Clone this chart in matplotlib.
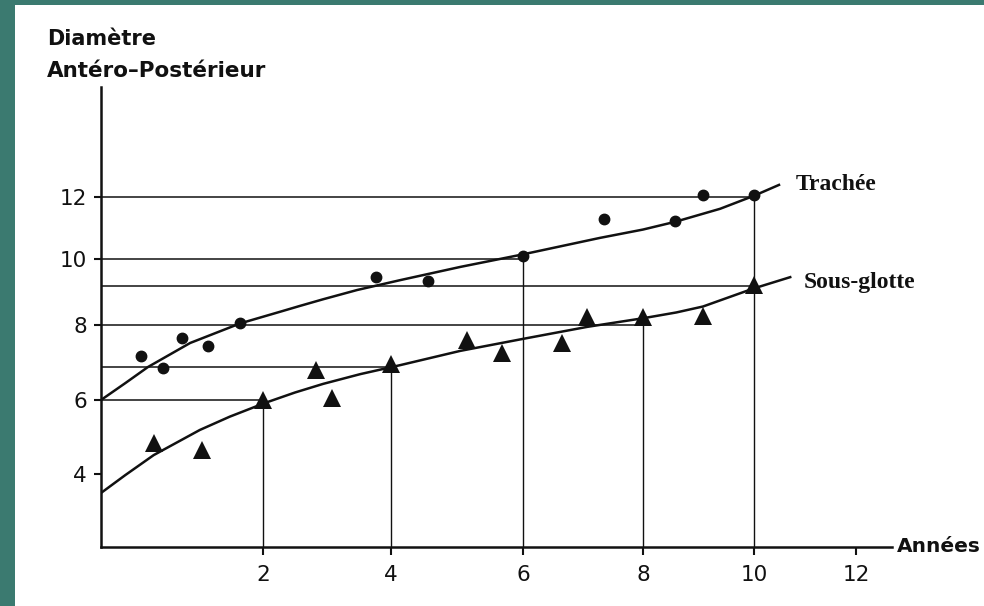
import numpy as np
import matplotlib
matplotlib.use("Agg")
import matplotlib.pyplot as plt
from matplotlib.patches import Rectangle

# --- data (years, diameter) ---
trachee_x = [0.49, 0.76, 1.0, 1.32, 1.72, 3.77, 4.56, 6.0, 7.35, 8.58, 9.08, 10.0]
trachee_y = [7.17, 6.86, 7.66, 7.44, 8.05, 9.46, 9.33, 10.1, 11.3, 11.24, 12.05, 12.05]

sg_x = [0.65, 1.25, 2.0, 2.83, 3.08, 4.0, 5.15, 5.68, 6.65, 7.07, 8.0, 9.08, 10.0]
sg_y = [4.84, 4.65, 6.0, 6.8, 6.05, 6.95, 7.6, 7.25, 7.52, 8.24, 8.25, 8.28, 9.2]

# fitted curves, points
trachee_fit_x = [0, 0.30, 0.58, 1.10, 1.72, 2.30, 2.58, 2.94, 3.47, 4.14, 5.05, 6.0,
                 7.28, 8.0, 8.58, 9.39, 10.0, 10.49]
trachee_fit_y = [6.0, 6.45, 6.88, 7.52, 8.05, 8.42, 8.58, 8.78, 9.06, 9.36, 9.76, 10.15,
                 10.68, 10.95, 11.2, 11.62, 12.04, 12.39]

sg_fit_x = [0, 0.30, 0.65, 1.22, 1.59, 2.03, 2.50, 2.94, 3.52, 4.14, 5.05, 6.0, 7.07,
            8.02, 8.60, 9.08, 9.98, 10.71]
sg_fit_y = [3.48, 3.97, 4.51, 5.19, 5.55, 5.92, 6.2, 6.43, 6.69, 6.93, 7.31, 7.63, 7.95,
            8.21, 8.38, 8.56, 9.1, 9.45]

# reading lines: horizontal (level, up to year) and vertical (year, up to level)
h_levels = [12.0, 10.0, 9.18, 8.0, 6.88, 6.0]
h_ends = [10, 6, 10, 8, 4, 2]
v_years = [2, 4, 6, 8, 10]
v_tops = [6.0, 6.95, 10.1, 8.25, 12.05]

x_ticks = [2, 4, 6, 8, 10, 12]
y_ticks = [4, 6, 8, 10, 12]

# the scanned axes are not evenly spaced: pixel position of each graduation
x_grad = [0, 2, 4, 6, 8, 10, 12]
x_grad_px = [101, 263, 391, 523, 643, 754, 856]
y_grad = [2, 4, 6, 8, 10, 12]
y_grad_px = [547, 474, 400, 325, 259, 197]


def piecewise(vals, pos):
    vals = np.asarray(vals, float)
    pos = np.asarray(pos, float)

    def conv(v, a, b):
        v = np.asarray(v, float)
        out = np.interp(v, a, b)
        out = np.where(v < a[0], b[0] + (v - a[0]) * (b[1] - b[0]) / (a[1] - a[0]), out)
        out = np.where(v > a[-1], b[-1] + (v - a[-1]) * (b[-1] - b[-2]) / (a[-1] - a[-2]), out)
        return out

    return (lambda v: conv(v, vals, pos)), (lambda p: conv(p, pos, vals))


W, H = 984, 606
fig = plt.figure(figsize=(W / 100, H / 100), dpi=100)
fig.patch.set_facecolor("#3b7a70")
fig.patches.append(Rectangle((15 / W, 0), 1 - 15 / W, 1 - 5 / H,
                             transform=fig.transFigure, facecolor="white",
                             edgecolor="none", zorder=-10))

# axes box: y axis at x=101px, x axis at y=547px, arrows up to 892px / 87px
ax = fig.add_axes([101 / W, (H - 547) / H, (892 - 101) / W, (547 - 87) / H])
ax.set_facecolor("none")

fx, ix = piecewise(x_grad, x_grad_px)
fy, iy = piecewise(y_grad, [-p for p in y_grad_px])
ax.set_xscale("function", functions=(fx, ix))
ax.set_yscale("function", functions=(fy, iy))
ax.set_xlim(0, float(ix(892)))
ax.set_ylim(2, float(iy(-87)))

ink = "#111111"
for lvl, end in zip(h_levels, h_ends):
    ax.plot([0, end], [lvl, lvl], color=ink, lw=1.1, zorder=2)
for yr, top in zip(v_years, v_tops):
    ax.plot([yr, yr], [2, top], color=ink, lw=1.0, zorder=2)

ax.plot(trachee_fit_x, trachee_fit_y, color=ink, lw=1.8, zorder=3,
        solid_joinstyle="round")
ax.plot(sg_fit_x, sg_fit_y, color=ink, lw=1.8, zorder=3, solid_joinstyle="round")
ax.plot(trachee_x, trachee_y, "o", color=ink, ms=7.5, zorder=4)
ax.plot(sg_x, sg_y, "^", color=ink, ms=13, mew=0, zorder=4)

ax.annotate("Trachée", (trachee_fit_x[-1], trachee_fit_y[-1]), xytext=(12, -4),
            textcoords="offset points", va="baseline", ha="left",
            family="Liberation Serif", weight="bold", fontsize=17, color=ink)
ax.annotate("Sous-glotte", (sg_fit_x[-1], sg_fit_y[-1]), xytext=(10, -8),
            textcoords="offset points", va="baseline", ha="left",
            family="Liberation Serif", weight="bold", fontsize=17, color=ink)

for side in ["top", "right"]:
    ax.spines[side].set_visible(False)
for side in ["left", "bottom"]:
    ax.spines[side].set_linewidth(1.8)
    ax.spines[side].set_color(ink)

ax.set_xticks(x_ticks)
ax.set_xticklabels([str(t) for t in x_ticks])
ax.set_yticks(y_ticks)
ax.set_yticklabels([str(t) for t in y_ticks])
ax.xaxis.set_minor_locator(matplotlib.ticker.NullLocator())
ax.yaxis.set_minor_locator(matplotlib.ticker.NullLocator())
ax.tick_params(axis="x", direction="out", length=6, width=1.5, pad=7,
               labelsize=15.5, colors=ink)
ax.tick_params(axis="y", direction="out", length=5, width=1.5, pad=5,
               labelsize=15.5, colors=ink)

fig.text(47 / W, 1 - 45 / H, "Diamètre", fontsize=15, weight="bold",
         color=ink, va="baseline", ha="left")
fig.text(47 / W, 1 - 77 / H, "Antéro–Postérieur", fontsize=15.5, weight="bold",
         color=ink, va="baseline", ha="left")
fig.text(897 / W, 1 - 552 / H, "Années", fontsize=14.5, weight="bold",
         color=ink, va="baseline", ha="left")

fig.savefig("out.png", dpi=100, facecolor=fig.get_facecolor())
